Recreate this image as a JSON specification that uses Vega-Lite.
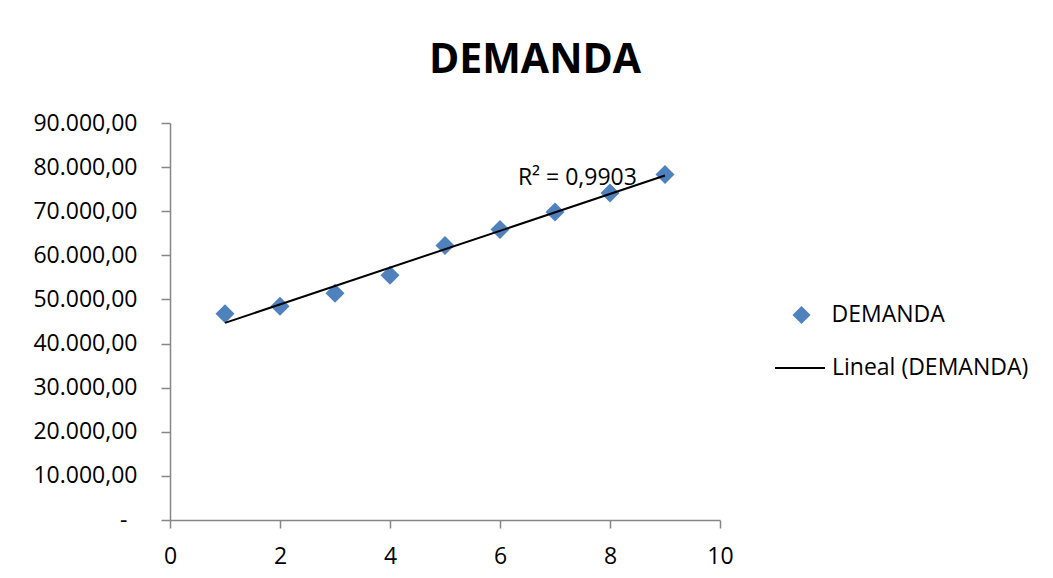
{
  "$schema": "https://vega.github.io/schema/vega-lite/v6.json",
  "width": 550,
  "height": 397,
  "autosize": {"type": "none"},
  "padding": {"left": 170, "top": 123, "right": 333, "bottom": 58},
  "background": "white",
  "title": {
    "text": "DEMANDA",
    "font": "Open Sans",
    "fontSize": 41,
    "fontWeight": "bold",
    "color": "black",
    "anchor": "middle",
    "frame": "group",
    "dx": 90,
    "offset": 30
  },
  "data": {
    "values": [
      {"periodo": 1, "demanda": 46740, "serie": "DEMANDA"},
      {"periodo": 2, "demanda": 48470, "serie": "DEMANDA"},
      {"periodo": 3, "demanda": 51420, "serie": "DEMANDA"},
      {"periodo": 4, "demanda": 55500, "serie": "DEMANDA"},
      {"periodo": 5, "demanda": 62240, "serie": "DEMANDA"},
      {"periodo": 6, "demanda": 65870, "serie": "DEMANDA"},
      {"periodo": 7, "demanda": 69800, "serie": "DEMANDA"},
      {"periodo": 8, "demanda": 74110, "serie": "DEMANDA"},
      {"periodo": 9, "demanda": 78350, "serie": "DEMANDA"}
    ]
  },
  "layer": [
    {
      "mark": {"type": "point", "filled": true, "size": 360, "opacity": 1, "color": "#4F81BD"},
      "encoding": {
        "x": {
          "field": "periodo",
          "type": "quantitative",
          "scale": {"domain": [0, 10], "nice": false},
          "axis": {
            "values": [0, 2, 4, 6, 8, 10],
            "title": null,
            "grid": false,
            "domainColor": "#868686",
            "domainWidth": 1.5,
            "tickColor": "#868686",
            "tickWidth": 1.5,
            "tickSize": 8,
            "labelFont": "Open Sans",
            "labelFontSize": 23,
            "labelColor": "black",
            "labelPadding": 17,
            "labelFlush": false,
            "labelOverlap": false
          }
        },
        "y": {
          "field": "demanda",
          "type": "quantitative",
          "scale": {"domain": [0, 90000], "nice": false},
          "axis": {
            "values": [0, 10000, 20000, 30000, 40000, 50000, 60000, 70000, 80000, 90000],
            "title": null,
            "grid": false,
            "domainColor": "#868686",
            "domainWidth": 1.5,
            "tickColor": "#868686",
            "tickWidth": 1.5,
            "tickSize": 9,
            "labelFont": "Open Sans",
            "labelFontSize": 23,
            "labelColor": "black",
            "labelPadding": {"condition": {"test": "datum.value == 0", "value": 34}, "value": 24},
            "labelFlush": false,
            "labelOverlap": false,
            "labelExpr": "datum.value == 0 ? '-' : replace(replace(replace(format(datum.value, ',.2f'), ',', '_'), '.', ','), '_', '.')"
          }
        },
        "shape": {
          "field": "serie",
          "type": "nominal",
          "scale": {"domain": ["DEMANDA"], "range": ["diamond"]},
          "legend": {
            "title": null,
            "orient": "none",
            "legendX": 620,
            "legendY": 180.5,
            "padding": 0,
            "symbolSize": 330,
            "symbolFillColor": "#4F81BD",
            "symbolStrokeWidth": 0,
            "labelOffset": 18.5,
            "labelLimit": 400,
            "labelFont": "Open Sans",
            "labelFontSize": 23,
            "labelColor": "black"
          }
        }
      }
    },
    {
      "transform": [{"regression": "demanda", "on": "periodo"}],
      "mark": {"type": "line", "strokeWidth": 2},
      "encoding": {
        "x": {"field": "periodo", "type": "quantitative"},
        "y": {"field": "demanda", "type": "quantitative"},
        "color": {
          "datum": "Lineal (DEMANDA)",
          "scale": {"domain": ["Lineal (DEMANDA)"], "range": ["#000000"]},
          "legend": {
            "title": null,
            "orient": "none",
            "legendX": 604,
            "legendY": 219,
            "padding": 0,
            "symbolType": "stroke",
            "symbolSize": 2500,
            "symbolStrokeWidth": 2,
            "labelOffset": 6,
            "labelLimit": 400,
            "labelFont": "Open Sans",
            "labelFontSize": 23,
            "labelColor": "black"
          }
        }
      }
    },
    {
      "data": {"values": [{"etiqueta": "R² = 0,9903"}]},
      "mark": {"type": "text", "align": "left", "baseline": "alphabetic", "font": "Open Sans", "fontSize": 23, "color": "black"},
      "encoding": {
        "x": {"datum": 6.325, "type": "quantitative"},
        "y": {"datum": 75900, "type": "quantitative"},
        "text": {"field": "etiqueta"}
      }
    }
  ],
  "config": {
    "view": {"stroke": null},
    "font": "Open Sans"
  }
}
